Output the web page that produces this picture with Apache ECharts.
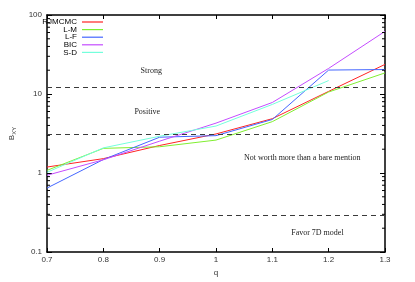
<!DOCTYPE html>
<html><head><meta charset="utf-8">
<script src="https://cdn.jsdelivr.net/npm/echarts@6/dist/echarts.min.js"></script>
<style>html,body{margin:0;padding:0;background:#fff}#c{width:415px;height:282px}</style>
</head><body><div id="c"></div>
<script>
const qValues = [0.7, 0.8, 0.9, 1.0, 1.1, 1.2, 1.3];
const rjmcmc = [1.19, 1.52, 2.23, 3.12, 4.87, 10.8, 23.7];
const lm = [1.08, 2.05, 2.15, 2.61, 4.47, 10.6, 18.5];
const lf = [0.645, 1.48, 2.84, 2.97, 4.76, 20.1, 20.4];
const bic = [0.936, 1.47, 2.53, 4.28, 7.81, 21.1, 62.1];
const sd = [1.02, 2.08, 2.92, 3.93, 7.38, 14.8, null];
const seriesNames = ['RJMCMC', 'L-M', 'L-F', 'BIC', 'S-D'];
const thresholds = [12.2, 3.1, 0.29];
const regionLabels = ['Strong', 'Positive', 'Not worth more than a bare mention', 'Favor 7D model'];
const minorTickValues = [0.2,0.3,0.4,0.5,0.6,0.7,0.8,0.9,2,3,4,5,6,7,8,9,20,30,40,50,60,70,80,90];

const colors = ['#ff2424', '#80ee30', '#4466ff', '#c44cff', '#74ffdc'];
const allData = [rjmcmc, lm, lf, bic, sd];
const labelPos = [[0.885, 19.5], [0.878, 5.87], [1.153, 1.57], [1.18, 0.172]];

const chart = echarts.init(document.getElementById('c'), null, {renderer: 'canvas'});
const sans = 'Liberation Sans, Arial, sans-serif';
const serif = 'Liberation Serif, Times New Roman, serif';

const series = allData.map((d, i) => ({
  name: seriesNames[i], type: 'line', symbol: 'none',
  data: qValues.map((q, j) => [q, d[j]]),
  lineStyle: {color: colors[i], width: 1}, itemStyle: {color: colors[i]},
  z: 3, animation: false, connectNulls: false
}));
series.push({
  type: 'line', data: [], silent: true, animation: false,
  markLine: {
    symbol: 'none', silent: true, animation: false,
    label: {show: false},
    lineStyle: {color: '#3a3a3a', type: [5, 4], width: 1.2},
    data: thresholds.map(t => ({yAxis: t}))
  },
  markPoint: {
    symbol: 'circle', symbolSize: 0, silent: true, animation: false,
    label: {show: true, position: 'inside', fontFamily: serif, fontSize: 8, color: '#222'},
    data: regionLabels.map((t, i) => ({coord: labelPos[i], value: t, label: {formatter: t}}))
  }
});
series.push({
  type: 'custom', silent: true, animation: false, z: 4,
  data: minorTickValues.map(v => [v]),
  renderItem: function (params, api) {
    const p = api.coord([0.7, api.value(0)]);
    const r = api.coord([1.3, api.value(0)]);
    return {type: 'group', children: [
      {type: 'line', shape: {x1: p[0], y1: p[1], x2: p[0] + 3, y2: p[1]}, style: {stroke: '#000', lineWidth: 1}},
      {type: 'line', shape: {x1: r[0], y1: r[1], x2: r[0] - 3, y2: r[1]}, style: {stroke: '#000', lineWidth: 1}}
    ]};
  },
  encode: {y: 0}
});

const fmtX = v => String(+v.toFixed(1));
const axisLine = {show: true, onZero: false, lineStyle: {color: '#000', width: 1.5}};
chart.setOption({
  animation: false,
  grid: {left: 45, right: 30, top: 15, bottom: 26},
  legend: {
    orient: 'vertical', right: 312, top: 18, align: 'right',
    icon: 'rect', itemWidth: 21, itemHeight: 1.2, itemGap: -0.4,
    data: seriesNames,
    textStyle: {fontFamily: sans, fontSize: 8, color: '#000', lineHeight: 8, padding: [0, 0, 0, 0]},
    padding: 0
  },
  xAxis: [
    {type: 'value', min: 0.7, max: 1.3, interval: 0.1, position: 'bottom',
     name: 'q', nameLocation: 'middle', nameGap: 17,
     nameTextStyle: {fontFamily: sans, fontSize: 8, color: '#333'},
     axisLine: axisLine, axisTick: {inside: true, length: 4, lineStyle: {color: '#000'}},
     axisLabel: {formatter: fmtX, fontFamily: sans, fontSize: 8, color: '#333', margin: 4},
     splitLine: {show: false}},
    {type: 'value', min: 0.7, max: 1.3, interval: 0.1, position: 'top',
     axisLine: axisLine, axisTick: {inside: true, length: 4, lineStyle: {color: '#000'}},
     axisLabel: {show: false}, splitLine: {show: false}}
  ],
  yAxis: [
    {type: 'log', logBase: 10, min: 0.1, max: 100, position: 'left',
     name: '{b|B}{s|XY}', nameLocation: 'middle', nameGap: 30, nameRotate: 90,
     nameTextStyle: {rich: {b: {fontFamily: sans, fontSize: 8, color: '#333'}, s: {fontFamily: sans, fontSize: 6, color: '#333', verticalAlign: 'bottom', padding: [4, 0, 0, 0]}}},
     axisLine: axisLine, axisTick: {inside: true, length: 5, lineStyle: {color: '#000'}},
     axisLabel: {formatter: v => String(v), fontFamily: sans, fontSize: 8, color: '#333', margin: 5},
     splitLine: {show: false}},
    {type: 'log', logBase: 10, min: 0.1, max: 100, position: 'right',
     axisLine: axisLine, axisTick: {inside: true, length: 5, lineStyle: {color: '#000'}},
     axisLabel: {show: false}, splitLine: {show: false}}
  ],
  series: series
});
</script></body></html>
